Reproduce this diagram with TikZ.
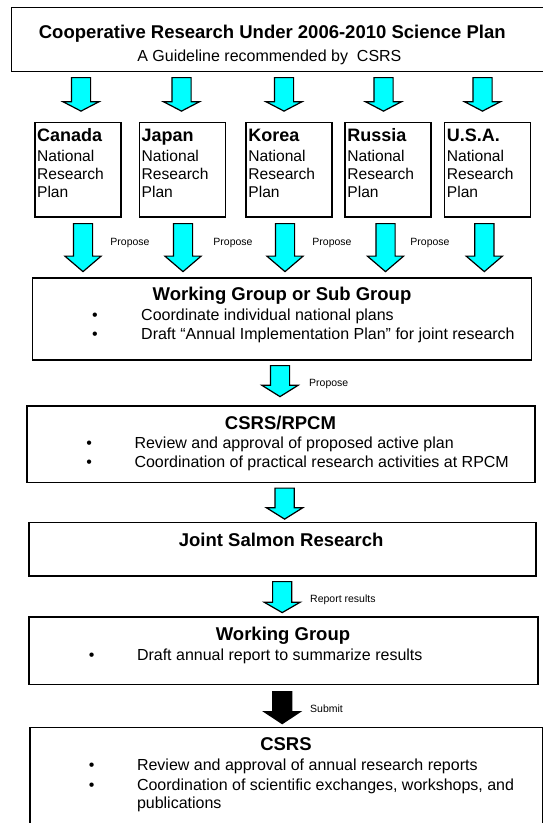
\documentclass[tikz,border=0pt]{standalone}
\usepackage{fontspec}
\setmainfont{Liberation Sans}
\usetikzlibrary{shapes.arrows}
\definecolor{aqua}{RGB}{0,255,255}
\tikzset{
  box/.style={draw=black, line width=1.6pt, fill=white, inner sep=0pt},
  barrow/.style={single arrow, draw=black, line width=1.2pt, fill=aqua, rotate=-90,
    minimum width=35pt, single arrow head extend=8.5pt, inner xsep=0pt, inner ysep=9pt, anchor=tail},
  ttl/.style={anchor=base, inner sep=0pt, font=\fontsize{18.5}{22}\selectfont\bfseries},
  sub/.style={anchor=base, inner sep=0pt, font=\fontsize{16}{19}\selectfont},
  txt/.style={anchor=base west, inner sep=0pt, font=\fontsize{16}{19}\selectfont},
  bul/.style={anchor=base, inner sep=0pt, font=\fontsize{16}{19}\selectfont},
  lbl/.style={anchor=base west, inner sep=0pt, font=\fontsize{10.5}{12}\selectfont},
  cname/.style={anchor=base west, inner sep=0pt, font=\fontsize{18}{21}\selectfont\bfseries},
  cbody/.style={anchor=base west, inner sep=0pt, font=\fontsize{15.6}{18}\selectfont},
}
\begin{document}
\begin{tikzpicture}[x=1pt, y=-1pt]
\useasboundingbox (0,0) rectangle (543,823);
\fill[white] (0,0) rectangle (543,823);

% ---------- top box ----------
\node[box, minimum width=534.5pt, minimum height=64pt] (top) at (278.75,39.5) {};
\node[ttl] (toptitle) at (272.3,38.5) {Cooperative Research Under 2006-2010 Science Plan};
\node[sub] (topsub) at (269.4,61) {A Guideline recommended by\ \ CSRS};

% ---------- top arrows ----------
\foreach \i/\cx in {1/81, 2/181.5, 3/284, 4/383.5, 5/482.5}{
  \node[barrow, minimum height=33.5pt, single arrow tip angle=125] (ta\i) at (\cx,77) {};
}

% ---------- country boxes ----------
\foreach \i/\cx/\nm in {1/77.7/Canada, 2/182.3/Japan, 3/289/Korea, 4/388/Russia, 5/487.5/U.S.A.}{
  \node[box, minimum width=86pt, minimum height=94.5pt] (c\i) at (\cx,169.75) {};
  \node[cname] (c\i n) at ([xshift=3pt]c\i.west |- 0,141.7) {\nm};
  \node[cbody] (c\i a) at ([xshift=3pt]c\i.west |- 0,161.7) {National};
  \node[cbody] (c\i b) at ([xshift=3pt]c\i.west |- 0,179.5) {Research};
  \node[cbody] (c\i c) at ([xshift=3pt]c\i.west |- 0,197.7) {Plan};
}

% ---------- second row arrows ----------
\foreach \i/\cx in {1/83, 2/183, 3/285, 4/385.5, 5/484.3}{
  \node[barrow, minimum height=48pt, single arrow tip angle=99] (pa\i) at (\cx,223) {};
}
\foreach \i/\cx in {1/130, 2/233, 3/332, 4/430}{
  \node[lbl, anchor=base] (pl\i) at (\cx,245) {Propose};
}

% ---------- Working Group or Sub Group ----------
\node[box, minimum width=499pt, minimum height=82pt] (wg1) at (282,319) {};
\node[ttl] (wg1t) at (282,300) {Working Group or Sub Group};
\node[bul] (wg1b1) at (95,320) {•};
\node[txt] (wg1l1) at (141,320) {Coordinate individual national plans};
\node[bul] (wg1b2) at (95,339.5) {•};
\node[txt] (wg1l2) at (141,339.5) {Draft “Annual Implementation Plan” for joint research};

\node[barrow, minimum height=31pt, single arrow tip angle=116] (a1) at (280,365) {};
\node[lbl] (a1l) at (309,386) {Propose};

% ---------- CSRS/RPCM ----------
\node[box, minimum width=508.3pt, minimum height=76.5pt] (rpcm) at (280.85,444.25) {};
\node[ttl] (rpcmt) at (280.5,429) {CSRS/RPCM};
\node[bul] (rpcmb1) at (89.3,448.3) {•};
\node[txt] (rpcml1) at (134.3,448.3) {Review and approval of proposed active plan};
\node[bul] (rpcmb2) at (89.3,467.3) {•};
\node[txt] (rpcml2) at (134.3,467.3) {Coordination of practical research activities at RPCM};

\node[barrow, minimum height=31pt, single arrow tip angle=116] (a2) at (284.6,487.5) {};

% ---------- Joint Salmon Research ----------
\node[box, minimum width=506.7pt, minimum height=53.7pt] (joint) at (282.35,549.15) {};
\node[ttl] (jointt) at (281.2,546) {Joint Salmon Research};

\node[barrow, minimum height=31pt, single arrow tip angle=120] (a3) at (282.2,581) {};
\node[lbl] (a3l) at (310,602) {Report results};

% ---------- Working Group ----------
\node[box, minimum width=508.7pt, minimum height=67.3pt] (wg2) at (283.35,650.65) {};
\node[ttl] (wg2t) at (283,640) {Working Group};
\node[bul] (wg2b1) at (91.8,660) {•};
\node[txt] (wg2l1) at (136.8,660) {Draft annual report to summarize results};

\node[barrow, minimum height=32pt, single arrow tip angle=113, fill=black] (a4) at (282.2,691) {};
\node[lbl] (a4l) at (310,712.8) {Submit};

% ---------- CSRS ----------
\node[box, minimum width=512.5pt, minimum height=102.5pt] (csrs) at (286.25,778.75) {};
\node[ttl] (csrst) at (286,750.7) {CSRS};
\node[bul] (csrsb1) at (91.8,770.7) {•};
\node[txt] (csrsl1) at (136.8,770.7) {Review and approval of annual research reports};
\node[bul] (csrsb2) at (91.8,790) {•};
\node[txt] (csrsl2) at (136.8,790) {Coordination of scientific exchanges, workshops, and};
\node[txt] (csrsl3) at (136.8,808.3) {publications};
\end{tikzpicture}
\end{document}
